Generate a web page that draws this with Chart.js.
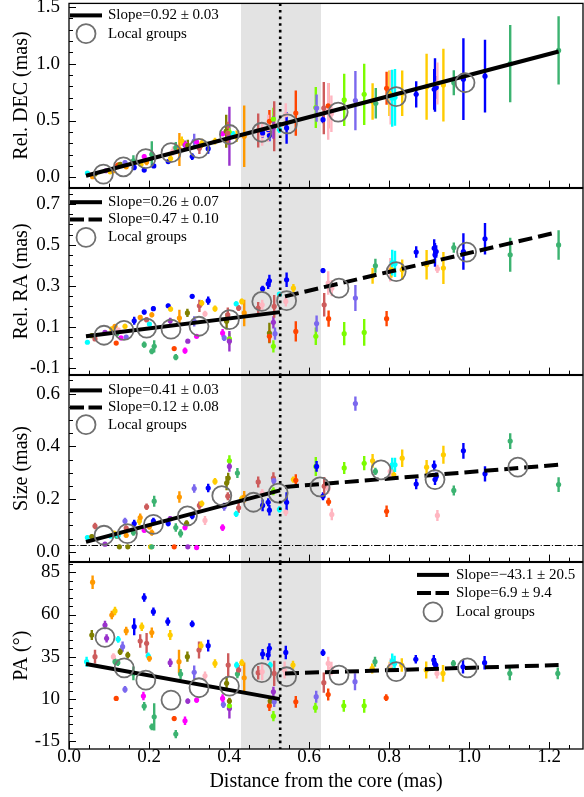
<!DOCTYPE html>
<html><head><meta charset="utf-8">
<script src="https://cdn.jsdelivr.net/npm/chart.js@4.4.1/dist/chart.umd.min.js"></script>
<style>
html,body{margin:0;padding:0;background:#fff;width:584px;height:797px;overflow:hidden;position:relative}
canvas{position:absolute;left:0}
</style></head><body>
<canvas id="c0"></canvas><canvas id="c1"></canvas><canvas id="c2"></canvas><canvas id="c3"></canvas>
<script>
// ---------------- DATA ----------------
const xTicks = [0.0, 0.2, 0.4, 0.6, 0.8, 1.0, 1.2];
const xTitle = 'Distance from the core (mas)';
const shadeRange = [0.43, 0.63];
const breakX = 0.528;
const sizeLimit = 0.026;

// [distance, value, error, colour key]
const decPoints = [
[0.046,0.038,0.01,'c'],[0.059,0.006,0.01,'o'],[0.065,0.030,0.015,'v'],[0.092,0.058,0.015,'d'],
[0.103,0.049,0.015,'y'],[0.111,0.058,0.02,'o'],[0.119,0.100,0.02,'r'],[0.123,0.110,0.015,'R'],
[0.128,0.115,0.02,'v'],[0.140,0.130,0.02,'m'],[0.143,0.093,0.02,'o'],[0.161,0.145,0.05,'g'],
[0.163,0.087,0.025,'b'],[0.180,0.116,0.02,'y'],[0.188,0.064,0.015,'b'],[0.188,0.183,0.02,'M'],
[0.194,0.136,0.03,'o'],[0.207,0.203,0.115,'g'],[0.212,0.101,0.015,'b'],[0.248,0.139,0.015,'b'],
[0.254,0.165,0.03,'y'],[0.260,0.232,0.04,'p'],[0.267,0.261,0.05,'g'],[0.276,0.246,0.145,'o'],
[0.282,0.319,0.04,'y'],[0.290,0.284,0.04,'d'],[0.292,0.290,0.02,'M'],[0.297,0.281,0.05,'v'],
[0.308,0.183,0.03,'b'],[0.313,0.319,0.065,'m'],[0.319,0.313,0.02,'M'],[0.326,0.255,0.05,'r'],
[0.332,0.299,0.04,'y'],[0.348,0.252,0.045,'b'],[0.365,0.319,0.03,'y'],[0.384,0.383,0.02,'M'],
[0.393,0.406,0.145,'v'],[0.401,0.362,0.26,'d'],[0.401,0.397,0.04,'l'],[0.397,0.390,0.10,'r'],
[0.411,0.377,0.03,'c'],[0.419,0.362,0.05,'y'],[0.438,0.362,0.27,'o'],[0.473,0.412,0.15,'r'],
[0.483,0.377,0.10,'p'],[0.484,0.391,0.04,'b'],[0.498,0.420,0.05,'b'],[0.501,0.368,0.05,'b'],
[0.501,0.493,0.10,'R'],[0.498,0.430,0.12,'p'],[0.511,0.513,0.10,'l'],[0.513,0.449,0.22,'r'],
[0.511,0.440,0.10,'d'],[0.526,0.420,0.03,'c'],[0.542,0.551,0.10,'p'],[0.544,0.435,0.14,'b'],
[0.567,0.565,0.20,'R'],[0.617,0.614,0.18,'l'],[0.619,0.609,0.12,'m'],[0.635,0.507,0.03,'b'],
[0.637,0.609,0.23,'r'],[0.648,0.629,0.20,'R'],[0.648,0.580,0.25,'p'],[0.656,0.559,0.16,'p'],
[0.688,0.681,0.23,'l'],[0.716,0.675,0.26,'m'],[0.738,0.730,0.27,'l'],[0.759,0.667,0.16,'y'],
[0.767,0.652,0.135,'g'],[0.794,0.783,0.145,'R'],[0.801,0.739,0.20,'y'],[0.804,0.704,0.24,'p'],
[0.808,0.696,0.25,'c'],[0.815,0.704,0.25,'c'],[0.833,0.739,0.20,'y'],[0.868,0.730,0.115,'b'],
[0.894,0.797,0.29,'y'],[0.913,0.774,0.18,'b'],[0.915,0.812,0.235,'b'],[0.918,0.791,0.10,'b'],
[0.921,0.826,0.185,'p'],[0.936,0.812,0.32,'y'],[0.962,0.832,0.11,'g'],[0.986,0.864,0.36,'b'],
[1.040,0.890,0.32,'b'],[1.103,1.000,0.34,'g'],[1.224,1.116,0.30,'g']
];
const decGroupX = [0.086,0.136,0.192,0.255,0.325,0.401,0.482,0.546,0.673,0.818,0.990];
const decGroupY = [0.029,0.093,0.165,0.217,0.255,0.377,0.397,0.470,0.574,0.710,0.832];
const decFitX = [0.0425, 1.224];
const decFitY = [0.014, 1.107];
const decTicks = [0.0, 0.5, 1.0, 1.5];
const decLegend = ['Slope=0.92 \u00b1 0.03', 'Local groups'];

const raPoints = [
[0.046,0.025,0.008,'c'],[0.057,0.057,0.01,'v'],[0.065,0.041,0.01,'r'],[0.090,0.073,0.012,'d'],
[0.107,0.090,0.01,'y'],[0.115,0.103,0.01,'o'],[0.119,0.067,0.01,'g'],[0.118,0.021,0.008,'R'],
[0.123,0.085,0.01,'p'],[0.130,0.046,0.01,'M'],[0.140,0.103,0.012,'y'],[0.143,0.050,0.01,'m'],
[0.163,0.130,0.02,'b'],[0.178,0.146,0.012,'o'],[0.188,0.172,0.012,'b'],[0.194,0.135,0.012,'r'],
[0.188,0.013,0.015,'g'],[0.207,-0.019,0.015,'g'],[0.213,0.005,0.03,'g'],[0.207,0.159,0.012,'o'],
[0.211,0.189,0.012,'b'],[0.201,0.114,0.01,'c'],[0.248,0.203,0.01,'b'],[0.254,0.187,0.012,'y'],
[0.263,-0.006,0.008,'R'],[0.267,-0.048,0.015,'g'],[0.253,0.130,0.015,'d'],[0.276,0.143,0.04,'o'],
[0.296,0.168,0.02,'v'],[0.290,-0.016,0.015,'M'],[0.297,0.030,0.008,'d'],[0.308,0.249,0.01,'b'],
[0.319,0.054,0.008,'M'],[0.326,0.203,0.03,'r'],[0.332,0.216,0.015,'y'],[0.313,0.127,0.025,'m'],
[0.340,0.164,0.015,'p'],[0.348,0.228,0.02,'b'],[0.365,0.189,0.015,'y'],[0.384,0.070,0.02,'M'],
[0.388,0.046,0.015,'m'],[0.394,0.127,0.04,'v'],[0.397,0.159,0.035,'r'],[0.401,0.041,0.03,'l'],
[0.401,0.030,0.05,'d'],[0.418,0.213,0.012,'c'],[0.424,0.192,0.015,'r'],[0.432,0.224,0.015,'y'],
[0.438,0.168,0.065,'o'],[0.473,0.192,0.03,'r'],[0.483,0.208,0.025,'p'],[0.484,0.286,0.015,'b'],
[0.498,0.310,0.025,'b'],[0.501,0.325,0.03,'b'],[0.501,0.070,0.05,'v'],[0.501,0.054,0.03,'R'],
[0.511,0.005,0.03,'l'],[0.511,0.122,0.03,'d'],[0.515,0.067,0.03,'m'],[0.513,0.200,0.055,'r'],
[0.526,0.260,0.01,'c'],[0.544,0.330,0.035,'b'],[0.542,0.224,0.025,'p'],[0.561,0.289,0.02,'y'],
[0.567,0.078,0.05,'R'],[0.617,0.054,0.043,'l'],[0.619,0.116,0.04,'m'],[0.635,0.375,0.012,'b'],
[0.638,0.208,0.057,'r'],[0.649,0.140,0.04,'R'],[0.648,0.314,0.057,'p'],[0.657,0.289,0.04,'p'],
[0.688,0.067,0.057,'l'],[0.716,0.241,0.064,'m'],[0.738,0.073,0.065,'l'],[0.759,0.349,0.039,'y'],
[0.766,0.398,0.034,'g'],[0.794,0.140,0.037,'R'],[0.803,0.379,0.057,'p'],[0.806,0.380,0.04,'y'],
[0.808,0.414,0.063,'c'],[0.815,0.408,0.064,'c'],[0.833,0.379,0.05,'y'],[0.868,0.465,0.028,'b'],
[0.894,0.403,0.072,'y'],[0.913,0.484,0.044,'b'],[0.915,0.452,0.058,'b'],[0.918,0.468,0.03,'b'],
[0.921,0.383,0.02,'p'],[0.936,0.387,0.078,'y'],[0.962,0.487,0.025,'g'],[0.986,0.468,0.089,'b'],
[1.040,0.530,0.077,'b'],[1.103,0.452,0.083,'g'],[1.224,0.500,0.072,'g']
];
const raGroupX = [0.0875,0.1375,0.194,0.255,0.325,0.401,0.482,0.544,0.675,0.818,0.994];
const raGroupY = [0.059,0.083,0.094,0.089,0.103,0.135,0.224,0.228,0.289,0.370,0.465];
const raFit1X = [0.0425, 0.5275], raFit1Y = [0.054, 0.172];
const raFit2X = [0.54, 1.22],     raFit2Y = [0.249, 0.562];
const raTicks = [-0.1, 0.1, 0.3, 0.5, 0.7];
const raLegend = ['Slope=0.26 \u00b1 0.07', 'Slope=0.47 \u00b1 0.10', 'Local groups'];

const sizePoints = [
[0.046,0.054,0.008,'c'],[0.057,0.058,0.008,'v'],[0.065,0.098,0.012,'r'],[0.090,0.029,0.006,'d'],
[0.104,0.060,0.008,'c'],[0.113,0.070,0.01,'y'],[0.119,0.060,0.01,'g'],[0.126,0.019,0.005,'v'],
[0.123,0.062,0.008,'c'],[0.147,0.019,0.006,'v'],[0.140,0.117,0.012,'m'],[0.143,0.063,0.01,'o'],
[0.143,0.090,0.01,'r'],[0.163,0.107,0.015,'b'],[0.161,0.073,0.012,'g'],[0.176,0.117,0.015,'y'],
[0.178,0.130,0.015,'o'],[0.194,0.171,0.012,'r'],[0.188,0.082,0.01,'M'],[0.207,0.073,0.012,'o'],
[0.204,0.019,0.008,'y'],[0.207,0.019,0.006,'g'],[0.213,0.192,0.021,'g'],[0.211,0.117,0.012,'b'],
[0.201,0.095,0.01,'o'],[0.248,0.107,0.01,'b'],[0.253,0.126,0.01,'d'],[0.263,0.019,0.006,'R'],
[0.267,0.092,0.016,'g'],[0.276,0.208,0.022,'o'],[0.279,0.070,0.016,'g'],[0.290,0.092,0.01,'M'],
[0.294,0.108,0.012,'v'],[0.297,0.019,0.006,'d'],[0.308,0.136,0.012,'b'],[0.313,0.240,0.016,'m'],
[0.319,0.016,0.008,'M'],[0.326,0.176,0.015,'r'],[0.332,0.183,0.012,'y'],[0.340,0.119,0.017,'p'],
[0.348,0.242,0.016,'b'],[0.365,0.267,0.013,'y'],[0.384,0.092,0.013,'M'],[0.388,0.171,0.015,'m'],
[0.394,0.261,0.027,'v'],[0.397,0.211,0.015,'r'],[0.401,0.345,0.021,'l'],[0.401,0.324,0.02,'d'],
[0.398,0.280,0.02,'v'],[0.421,0.299,0.019,'g'],[0.418,0.144,0.012,'c'],[0.424,0.167,0.02,'r'],
[0.432,0.202,0.012,'y'],[0.438,0.208,0.023,'o'],[0.473,0.265,0.021,'r'],[0.483,0.223,0.015,'p'],
[0.484,0.176,0.022,'b'],[0.498,0.188,0.015,'b'],[0.501,0.158,0.02,'b'],[0.511,0.280,0.022,'r'],
[0.512,0.270,0.015,'m'],[0.526,0.161,0.012,'c'],[0.511,0.230,0.015,'l'],[0.542,0.151,0.015,'p'],
[0.544,0.188,0.038,'b'],[0.561,0.274,0.012,'y'],[0.567,0.271,0.023,'R'],[0.617,0.324,0.036,'l'],
[0.619,0.324,0.02,'b'],[0.635,0.211,0.015,'b'],[0.638,0.249,0.035,'r'],[0.649,0.190,0.015,'R'],
[0.648,0.240,0.02,'p'],[0.657,0.142,0.022,'p'],[0.688,0.318,0.023,'l'],[0.716,0.562,0.027,'m'],
[0.738,0.336,0.027,'l'],[0.759,0.345,0.026,'y'],[0.766,0.305,0.014,'g'],[0.794,0.154,0.022,'R'],
[0.803,0.305,0.027,'p'],[0.812,0.292,0.02,'y'],[0.808,0.330,0.027,'c'],[0.815,0.330,0.027,'c'],
[0.833,0.355,0.033,'y'],[0.868,0.257,0.02,'b'],[0.894,0.321,0.027,'y'],[0.913,0.326,0.02,'b'],
[0.915,0.274,0.021,'b'],[0.918,0.286,0.015,'b'],[0.921,0.138,0.021,'p'],[0.936,0.368,0.034,'y'],
[0.962,0.233,0.019,'g'],[0.986,0.383,0.03,'b'],[1.040,0.296,0.029,'b'],[1.103,0.420,0.03,'g'],
[1.224,0.255,0.028,'g']
];
const sizeGroupX = [0.0875,0.146,0.211,0.296,0.382,0.461,0.523,0.6275,0.780,0.915,1.122];
const sizeGroupY = [0.063,0.069,0.104,0.136,0.213,0.188,0.223,0.246,0.311,0.274,0.321];
const sizeFit1X = [0.0425, 0.5275], sizeFit1Y = [0.038, 0.233];
const sizeFit2X = [0.54, 1.224],    sizeFit2Y = [0.246, 0.330];
const sizeTicks = [0.0, 0.2, 0.4, 0.6];
const sizeLegend = ['Slope=0.41 \u00b1 0.03', 'Slope=0.12 \u00b1 0.08', 'Local groups'];

const paPoints = [
[0.044,32.1,3,'c'],[0.057,47.9,3,'v'],[0.059,79.1,4,'o'],[0.065,35.1,4,'r'],[0.090,53.8,2.5,'d'],
[0.094,45.9,2.5,'d'],[0.111,35.1,2,'p'],[0.115,32.1,2,'g'],[0.118,10.4,1.5,'R'],[0.107,59.7,2.5,'o'],
[0.115,62.1,2.5,'y'],[0.123,45.3,2,'c'],[0.128,38.0,2,'v'],[0.134,41.0,3,'m'],[0.122,31.5,2,'g'],
[0.140,15.7,2,'m'],[0.143,50.3,2.5,'o'],[0.147,36.0,2,'v'],[0.163,52.8,5,'b'],[0.161,25.2,4,'g'],
[0.178,44.3,4,'r'],[0.182,52.8,2.5,'y'],[0.188,70.0,2.5,'b'],[0.186,11.8,2.5,'M'],[0.188,5.8,2.5,'g'],
[0.194,43.0,6,'r'],[0.198,35.6,2,'c'],[0.201,34.1,2,'o'],[0.207,49.3,3,'o'],[0.207,-6.4,2,'g'],
[0.213,-0.5,8,'g'],[0.211,61.7,2.5,'b'],[0.247,55.8,2.5,'b'],[0.253,47.9,3,'y'],[0.253,31.5,2.5,'d'],
[0.263,-1.5,1.5,'R'],[0.267,-10.7,2.5,'g'],[0.275,32.1,7,'o'],[0.279,24.8,3,'g'],[0.297,8.8,1.5,'d'],
[0.296,35.1,3,'v'],[0.290,-2.8,2.5,'M'],[0.308,54.4,2,'b'],[0.319,9.4,1.5,'M'],[0.313,25.8,4,'m'],
[0.325,39.0,5,'r'],[0.330,41.6,2.5,'y'],[0.340,23.8,2.5,'p'],[0.348,41.6,3.5,'b'],[0.365,31.1,2.5,'y'],
[0.386,6.8,2,'m'],[0.384,10.4,2.5,'M'],[0.394,19.3,4,'v'],[0.398,30.1,7,'r'],[0.401,4.5,6,'d'],
[0.401,6.0,3,'l'],[0.401,8.8,2,'v'],[0.419,30.1,2,'c'],[0.421,24.8,2.5,'g'],[0.424,27.2,3,'r'],
[0.432,31.5,2,'y'],[0.438,22.6,9,'o'],[0.473,25.6,4,'r'],[0.483,26.2,5,'p'],[0.484,36.6,3,'b'],
[0.498,36.0,3,'b'],[0.501,40.0,3,'b'],[0.501,6.0,3,'R'],[0.503,8.8,2,'v'],[0.503,30.1,2,'c'],
[0.511,-0.1,3,'l'],[0.513,8.4,3,'m'],[0.511,14.3,3,'d'],[0.513,25.2,7.5,'r'],[0.542,37.6,4,'b'],
[0.539,27.2,5,'p'],[0.560,30.1,2.5,'y'],[0.567,8.4,3.5,'R'],[0.616,4.9,3,'l'],[0.618,11.4,3.5,'m'],
[0.635,37.4,2,'b'],[0.648,31.1,4,'p'],[0.637,19.7,6,'r'],[0.648,12.7,3.5,'R'],[0.656,28.1,4,'p'],
[0.687,6.0,3.5,'l'],[0.715,20.3,5,'m'],[0.738,6.0,4,'l'],[0.758,28.1,3,'y'],[0.765,32.1,3,'g'],
[0.793,10.8,2,'R'],[0.802,29.1,3,'y'],[0.804,30.1,4,'p'],[0.808,32.5,4.5,'c'],[0.814,31.1,4.5,'c'],
[0.832,30.1,4,'y'],[0.867,33.5,2.5,'b'],[0.893,27.2,5,'y'],[0.912,33.1,3,'b'],[0.914,31.1,3,'b'],
[0.917,30.1,2,'b'],[0.920,25.2,3,'p'],[0.935,25.2,5,'y'],[0.961,31.1,2,'g'],[0.985,29.1,4,'b'],
[1.039,31.5,4,'b'],[1.102,25.2,4,'g'],[1.222,25.2,3.5,'g']
];
const paGroupX = [0.090,0.138,0.192,0.255,0.325,0.401,0.482,0.544,0.675,0.818,0.996];
const paGroupY = [46.5,28.5,21.2,9.4,16.7,17.7,25.6,23.2,24.2,26.2,28.5];
const paFit1X = [0.0425, 0.5275], paFit1Y = [30.7, 10.0];
const paFit2X = [0.54, 1.224],    paFit2Y = [25.2, 30.1];
const paTicks = [-15, 10, 35, 60, 85];
const paLegend = ['Slope=\u221243.1 \u00b1 20.5', 'Slope=6.9 \u00b1 9.4', 'Local groups'];

// ---------------- STYLE ----------------
const FONT = "'Liberation Serif','Times New Roman',serif";
const COLORS = {c:'#00ffff',o:'#ff9900',y:'#ffcc00',v:'#808000',r:'#cd5c5c',d:'#9932cc',
  m:'#7b68ee',p:'#ffb6c1',g:'#3cb371',R:'#ff4500',M:'#ff00ff',b:'#0000ff',l:'#7cfc00'};

function makePlugin(P) {
  return {
    id: 'deco_' + P.id,
    beforeDatasetsDraw(chart) {
      const ctx = chart.ctx, a = chart.chartArea, xs = chart.scales.x, ys = chart.scales.y;
      ctx.save();
      ctx.beginPath(); ctx.rect(a.left, a.top, a.right - a.left, a.bottom - a.top); ctx.clip();
      const s0 = xs.getPixelForValue(shadeRange[0]), s1 = xs.getPixelForValue(shadeRange[1]);
      ctx.fillStyle = '#e3e3e3';
      ctx.fillRect(s0, a.top, s1 - s0, a.bottom - a.top);
      if (P.hline !== undefined) {
        const hy = Math.round(ys.getPixelForValue(P.hline)) + 0.5;
        ctx.strokeStyle = '#000'; ctx.lineWidth = 1; ctx.setLineDash([6.5, 1.8, 1.2, 1.8]);
        ctx.beginPath(); ctx.moveTo(a.left, hy); ctx.lineTo(a.right, hy); ctx.stroke();
        ctx.setLineDash([]);
      }
      ctx.lineWidth = 2.4; ctx.lineCap = 'butt';
      P.points.forEach(p => {
        const px = xs.getPixelForValue(p[0]);
        ctx.strokeStyle = COLORS[p[3]];
        ctx.beginPath();
        ctx.moveTo(px, ys.getPixelForValue(p[1] - p[2]));
        ctx.lineTo(px, ys.getPixelForValue(p[1] + p[2]));
        ctx.stroke();
      });
      ctx.restore();
    },
    afterDatasetsDraw(chart) {
      const ctx = chart.ctx, a = chart.chartArea, xs = chart.scales.x, ys = chart.scales.y;
      ctx.save();
      const bx = xs.getPixelForValue(breakX);
      ctx.strokeStyle = '#000'; ctx.lineWidth = 2.6; ctx.setLineDash([2.6, 4]);
      ctx.beginPath(); ctx.moveTo(bx, a.top); ctx.lineTo(bx, a.bottom); ctx.stroke();
      ctx.setLineDash([]);
      ctx.lineWidth = 1.3;
      ctx.strokeRect(a.left, a.top, a.right - a.left, a.bottom - a.top);
      ctx.lineWidth = 1;
      const isMajor = (v, arr) => arr.some(t => Math.abs(t - v) < 1e-6);
      for (let k = 0; k * 0.05 <= xs.max + 1e-9; k++) {
        const v = k * 0.05;
        const px = Math.round(xs.getPixelForValue(v)) + 0.5;
        const len = isMajor(v, xTicks) ? 7 : 4;
        ctx.beginPath(); ctx.moveTo(px, a.bottom); ctx.lineTo(px, a.bottom - len); ctx.stroke();
      }
      const kStart = Math.ceil(ys.min / P.minor - 1e-9), kEnd = Math.floor(ys.max / P.minor + 1e-9);
      for (let k = kStart; k <= kEnd; k++) {
        const v = k * P.minor;
        const py = Math.round(ys.getPixelForValue(v)) + 0.5;
        const len = isMajor(v, P.ticks) ? 7 : 4;
        ctx.beginPath(); ctx.moveTo(a.left, py); ctx.lineTo(a.left + len, py); ctx.stroke();
      }
      const L = P.legend;
      ctx.font = '15px ' + FONT; ctx.textBaseline = 'middle'; ctx.textAlign = 'left';
      ctx.fillStyle = '#000';
      L.types.forEach((t, i) => {
        const y = a.top + L.rows[i];
        if (t === 'solid' || t === 'dashed') {
          ctx.strokeStyle = '#000'; ctx.lineWidth = 4;
          ctx.setLineDash(t === 'dashed' ? [14, 4.5] : []);
          ctx.beginPath(); ctx.moveTo(L.x0, y); ctx.lineTo(L.x0 + 32, y); ctx.stroke();
          ctx.setLineDash([]);
        } else {
          ctx.strokeStyle = '#707070'; ctx.lineWidth = 1.8;
          ctx.beginPath(); ctx.arc(L.x0 + 16, y, 9.5, 0, Math.PI * 2); ctx.stroke();
        }
        ctx.fillText(L.texts[i], L.textX, y);
      });
      ctx.restore();
    }
  };
}

function buildChart(P) {
  const cv = document.getElementById(P.id);
  cv.width = 584; cv.height = P.h; cv.style.top = P.top + 'px';
  const datasets = [{
    data: P.groupX.map((x, i) => ({x, y: P.groupY[i]})),
    showLine: false, pointRadius: 9.5, pointHoverRadius: 9.5,
    pointBorderColor: '#707070', pointBorderWidth: 1.8,
    pointBackgroundColor: 'rgba(0,0,0,0)', order: 0
  }];
  P.fits.forEach(f => datasets.push({
    data: f.x.map((x, i) => ({x, y: f.y[i]})),
    showLine: true, borderColor: '#000', borderWidth: 4, borderCapStyle: 'butt',
    borderDash: f.dashed ? [14, 6] : [], pointRadius: 0, fill: false, order: 1
  }));
  datasets.push({
    data: P.points.map(p => ({x: p[0], y: p[1]})),
    showLine: false, pointRadius: 2.6, pointHoverRadius: 2.6, pointBorderWidth: 0,
    pointBackgroundColor: P.points.map(p => COLORS[p[3]]), order: 2
  });
  const xScale = {
    type: 'linear', min: 0, max: 1.285, display: !!P.showX,
    grid: {display: false, drawTicks: false}, border: {display: false}
  };
  if (P.showX) {
    xScale.afterBuildTicks = s => { s.ticks = xTicks.map(v => ({value: v})); };
    xScale.afterFit = s => { s.height = 48; };
    xScale.ticks = {autoSkip: false, maxRotation: 0, color: '#000', padding: -1,
      font: {family: FONT, size: 19, lineHeight: 1}, callback: v => Number(v).toFixed(1)};
    xScale.title = {display: true, text: xTitle, color: '#000',
      font: {family: FONT, size: 20}, padding: {top: 0, bottom: 3}};
  }
  new Chart(cv, {
    type: 'scatter',
    data: {datasets},
    options: {
      responsive: false, animation: false, devicePixelRatio: 1, events: [],
      layout: {autoPadding: false, padding: {top: P.padTop, bottom: P.padBottom, left: 0, right: 1}},
      plugins: {legend: {display: false}, tooltip: {enabled: false}},
      scales: {
        x: xScale,
        y: {
          type: 'linear', min: P.yMin, max: P.yMax,
          afterBuildTicks: s => { s.ticks = P.ticks.map(v => ({value: v})); },
          afterFit: s => { s.width = 69; },
          ticks: {autoSkip: false, color: '#000', padding: 9,
            font: {family: FONT, size: 19}, callback: v => Number(v).toFixed(P.dec)},
          grid: {display: false, drawTicks: false}, border: {display: false},
          title: {display: true, text: P.title, color: '#000',
            font: {family: FONT, size: 20}, padding: {top: 10, bottom: 0}}
        }
      }
    },
    plugins: [makePlugin(P)]
  });
}

buildChart({id: 'c0', top: -17, h: 225, padTop: 20, padBottom: 20,
  points: decPoints, groupX: decGroupX, groupY: decGroupY,
  fits: [{x: decFitX, y: decFitY, dashed: false}],
  yMin: -0.09, yMax: 1.53, ticks: decTicks, minor: 0.1, dec: 1, title: 'Rel. DEC (mas)',
  legend: {x0: 70, textX: 108, rows: [12, 30.3], types: ['solid', 'circle'], texts: decLegend}});

buildChart({id: 'c1', top: 168, h: 227, padTop: 20, padBottom: 20,
  points: raPoints, groupX: raGroupX, groupY: raGroupY,
  fits: [{x: raFit1X, y: raFit1Y, dashed: false}, {x: raFit2X, y: raFit2Y, dashed: true}],
  yMin: -0.133, yMax: 0.776, ticks: raTicks, minor: 0.05, dec: 1, title: 'Rel. RA (mas)',
  legend: {x0: 70, textX: 108, rows: [13.8, 31, 49], types: ['solid', 'dashed', 'circle'], texts: raLegend}});

buildChart({id: 'c2', top: 355, h: 227, padTop: 20, padBottom: 20,
  points: sizePoints, groupX: sizeGroupX, groupY: sizeGroupY, hline: sizeLimit,
  fits: [{x: sizeFit1X, y: sizeFit1Y, dashed: false}, {x: sizeFit2X, y: sizeFit2Y, dashed: true}],
  yMin: -0.037, yMax: 0.669, ticks: sizeTicks, minor: 0.05, dec: 1, title: 'Size (mas)',
  legend: {x0: 70, textX: 108, rows: [15, 32, 49.3], types: ['solid', 'dashed', 'circle'], texts: sizeLegend}});

buildChart({id: 'c3', top: 542, h: 255, padTop: 20, padBottom: 0, showX: true,
  points: paPoints, groupX: paGroupX, groupY: paGroupY,
  fits: [{x: paFit1X, y: paFit1Y, dashed: false}, {x: paFit2X, y: paFit2Y, dashed: true}],
  yMin: -19.5, yMax: 90.8, ticks: paTicks, minor: 5, dec: 0, title: 'PA (\u00b0)',
  legend: {x0: 417, textX: 456, rows: [12.5, 30.5, 49.5], types: ['solid', 'dashed', 'circle'], texts: paLegend}});
</script>
</body></html>
